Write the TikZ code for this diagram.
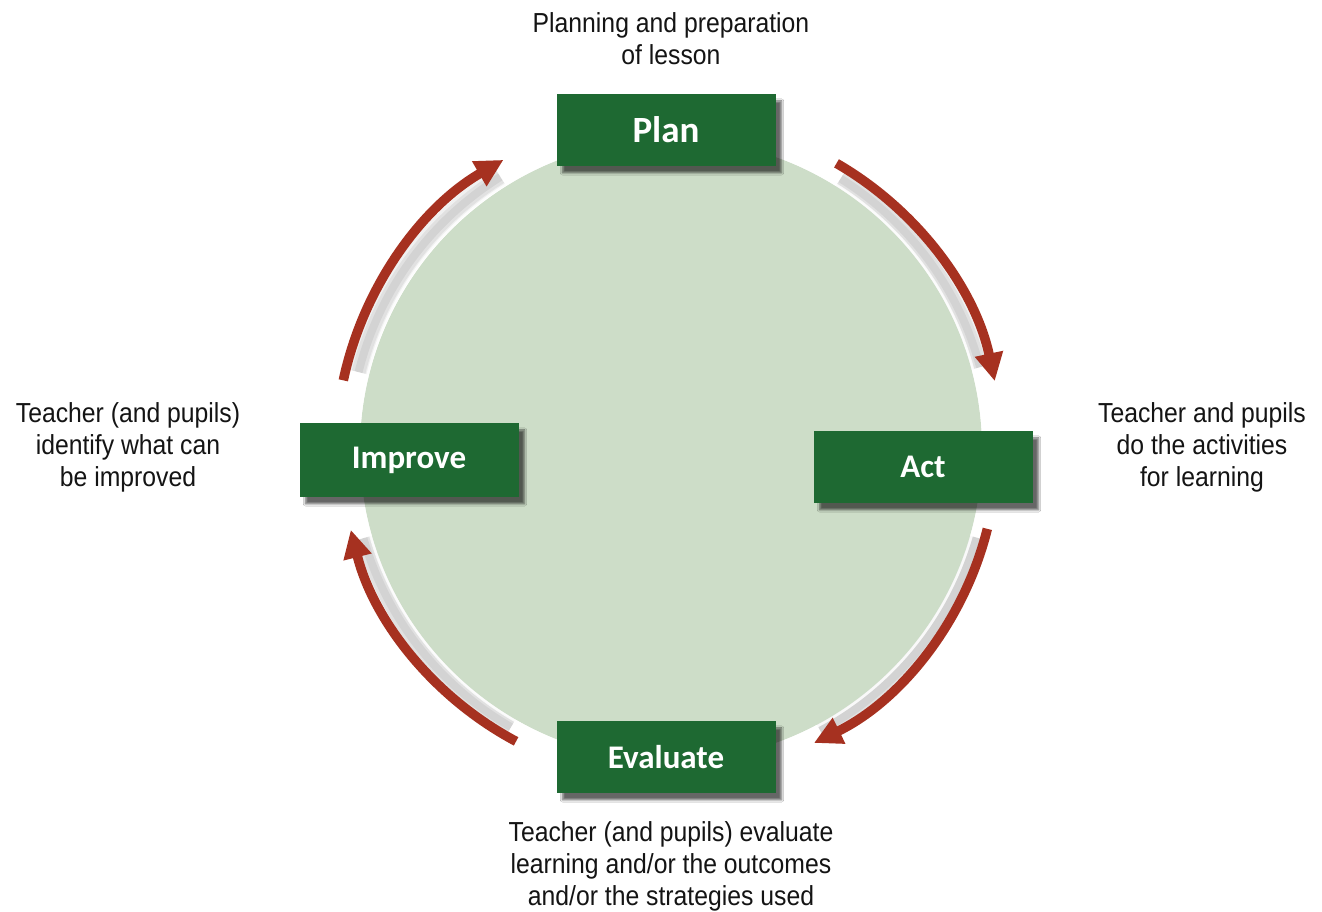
\documentclass[tikz,border=0pt]{standalone}
\usepackage{fontspec}
\setmainfont{Liberation Sans}[FakeStretch=0.9]
\newfontfamily\boxfont{Carlito}
\usetikzlibrary{arrows.meta,shadows.blur}
\definecolor{boxgreen}{RGB}{30,105,50}
\definecolor{circlegreen}{RGB}{205,221,200}
\definecolor{arrowred}{RGB}{166,49,32}
\definecolor{notegray}{RGB}{20,20,20}
\begin{document}
\begin{tikzpicture}[x=1pt,y=1pt,
  stagebox/.style={fill=boxgreen, minimum width=219pt, minimum height=72pt, inner sep=0pt,
    text=white, font=\boxfont\bfseries\fontsize{33}{36}\selectfont,
    blur shadow={shadow xshift=6pt, shadow yshift=-7pt, shadow opacity=60, shadow blur steps=8}},
  note/.style={align=center, font=\fontsize{27.5}{32}\selectfont, text=notegray},
  cyclearrow/.style={draw=arrowred, line width=9.5pt, -{Triangle[length=28pt,width=27pt]}},
  arrowshadow/.style={draw=black, opacity=0.06}]
\useasboundingbox (0,0) rectangle (1322,912);
\fill[white] (0,0) rectangle (1322,912);
\coordinate (c) at (671,462);
% arrow shadows (soft, layered)
\foreach \w in {20,14,8}{
  \draw[arrowshadow, line width=\w pt] (c) ++(58:320) arc[start angle=58,end angle=15,radius=320];
  \draw[arrowshadow, line width=\w pt] (c) ++(-16:318) arc[start angle=-16,end angle=-62,radius=318];
  \draw[arrowshadow, line width=\w pt] (c) ++(240:320) arc[start angle=240,end angle=196,radius=320];
  \draw[arrowshadow, line width=\w pt] (c) ++(166:322) arc[start angle=166,end angle=122,radius=322];
}
% circle
\fill[circlegreen] (c) circle[radius=311];
\draw[white, line width=2.5pt, opacity=0.8] (c) circle[radius=312.5];
% arrows
\draw[cyclearrow] (c) ++(60:331) arc[start angle=60,end angle=12,radius=331];
\draw[cyclearrow] (c) ++(-14:326) arc[start angle=-14,end angle=-64,radius=326];
\draw[cyclearrow] (c) ++(242:330) arc[start angle=242,end angle=194,radius=330];
\draw[cyclearrow] (c) ++(168:335) arc[start angle=168,end angle=120,radius=335];
% boxes
\node[stagebox, font=\boxfont\bfseries\fontsize{37}{40}\selectfont] (plan) at (666,782) {Plan};
\node[stagebox] (act) at (923,445) {Act};
\node[stagebox, minimum height=74pt] (improve) at (409,452) {Improve};
\node[stagebox] (evaluate) at (666,155) {Evaluate};
% notes
\node[note] (nplan) at (671,873) {Planning and preparation\\of lesson};
\node[note] (nimprove) at (128,465) {Teacher (and pupils)\\identify what can\\be improved};
\node[note] (nact) at (1202,465) {Teacher and pupils\\do the activities\\for learning};
\node[note] (neval) at (671,46) {Teacher (and pupils) evaluate\\learning and/or the outcomes\\and/or the strategies used};
\end{tikzpicture}
\end{document}
